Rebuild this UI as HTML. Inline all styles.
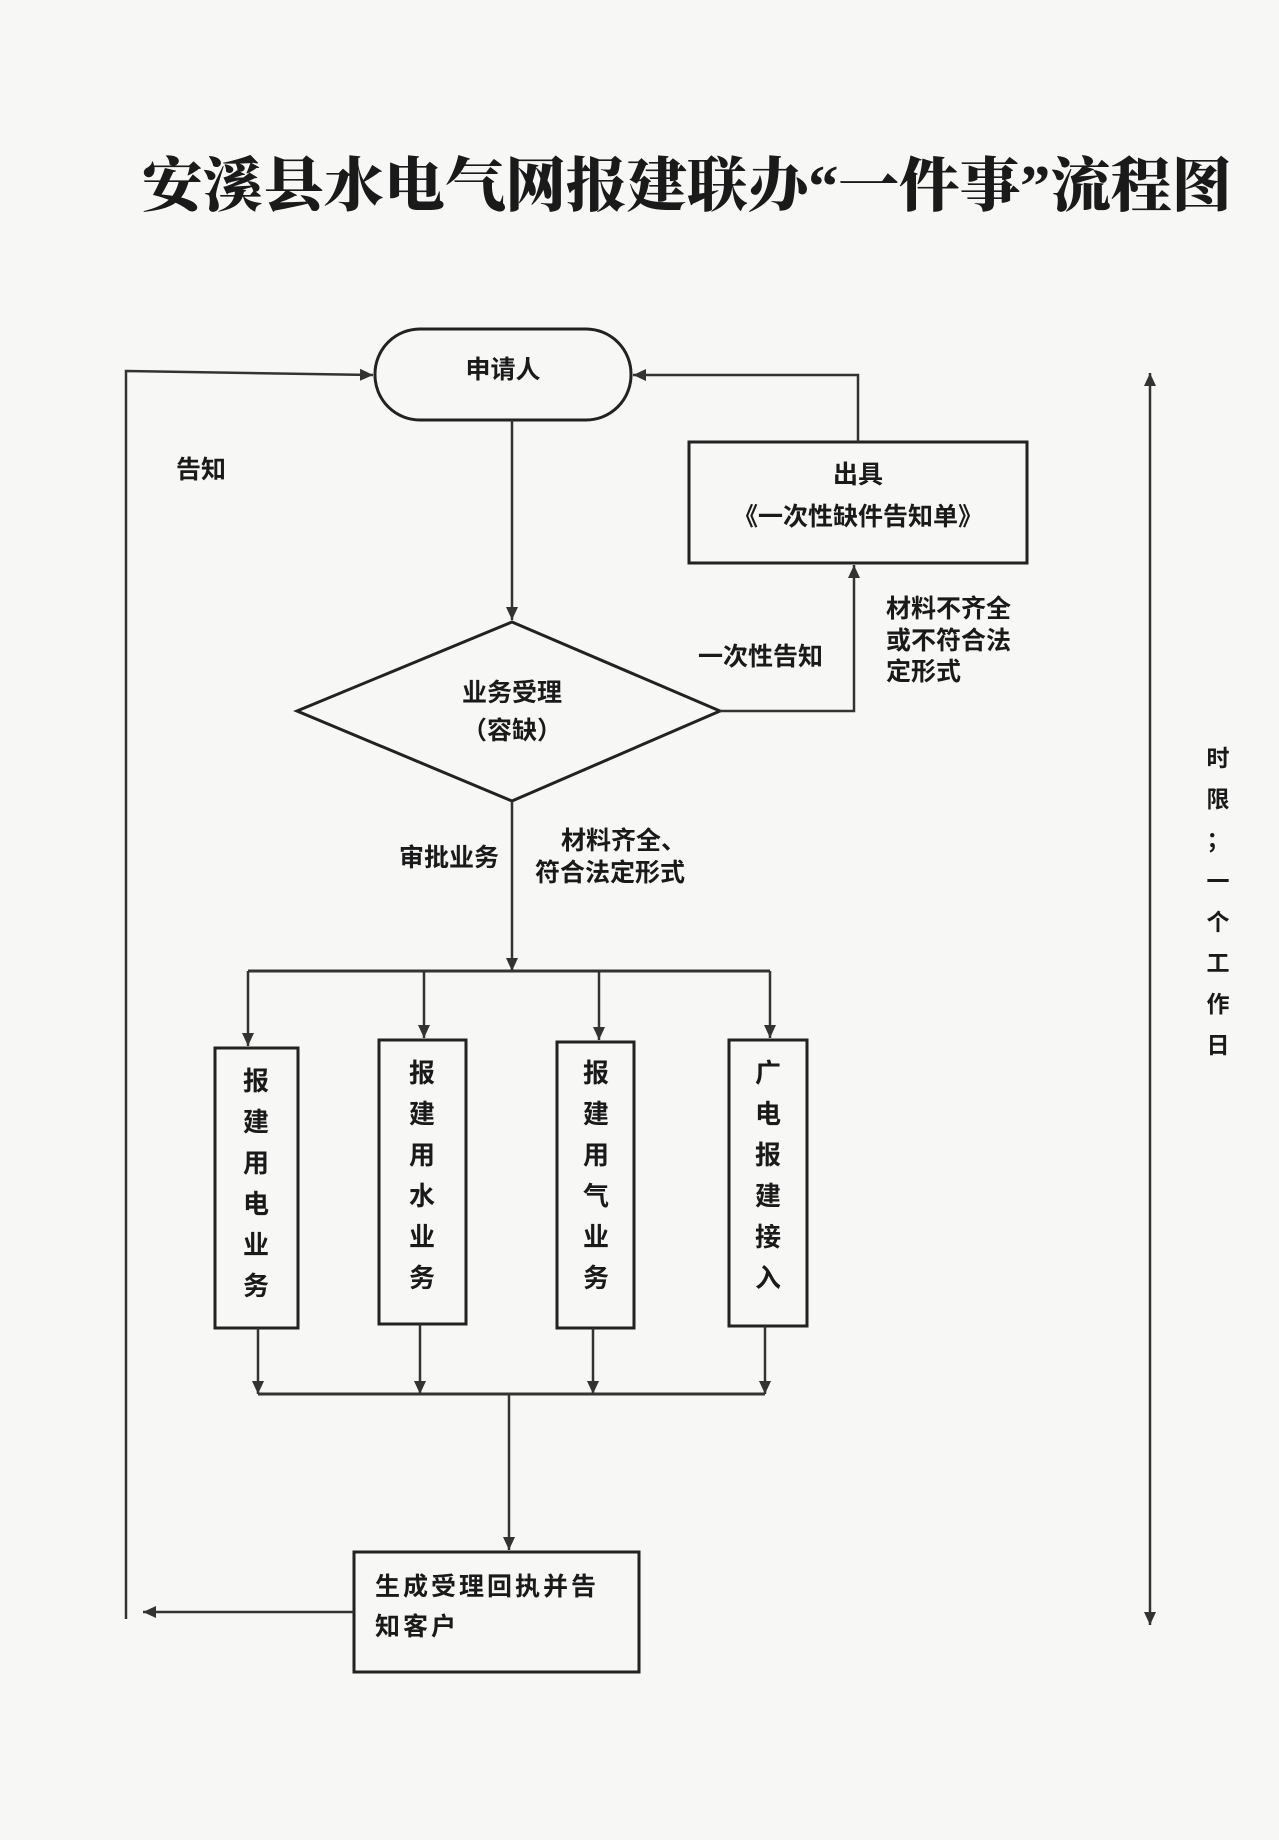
<!DOCTYPE html>
<html><head><meta charset="utf-8"><style>
html,body{margin:0;padding:0;background:#f7f7f5;}
svg{display:block}
text{font-family:"Liberation Sans","Noto Sans CJK SC",sans-serif;font-weight:bold;fill:#1a1a1a}
.t{font-family:"Liberation Serif","Noto Serif CJK SC",serif;font-weight:900}
</style></head><body>
<svg width="1279" height="1840" viewBox="0 0 1279 1840" xmlns="http://www.w3.org/2000/svg">
<defs><marker id="a" markerWidth="10" markerHeight="10" refX="9" refY="5" orient="auto" markerUnits="userSpaceOnUse"><path d="M0,0 L10,5 L0,10 Z" fill="#333"/></marker>
<marker id="b" markerWidth="14" markerHeight="14" refX="13" refY="7" orient="auto" markerUnits="userSpaceOnUse"><path d="M0,1 L13,7 L0,13 Z" fill="#333"/></marker></defs>
<rect width="1279" height="1840" fill="#f7f7f5"/>
<text class="t" x="142" y="206" font-size="59" textLength="1090" lengthAdjust="spacingAndGlyphs">安溪县水电气网报建联办“一件事”流程图</text>
<g stroke="#222" stroke-width="3" fill="none">
<rect x="375" y="329" width="256" height="91" rx="45" ry="45"/>
<rect x="689" y="442" width="338" height="121"/>
<polygon points="297,711 512,622 720,711 512,801"/>
<rect x="215" y="1048" width="83" height="280"/>
<rect x="379" y="1040" width="87" height="284"/>
<rect x="557" y="1042" width="77" height="286"/>
<rect x="729" y="1040" width="78" height="286"/>
<rect x="354" y="1552" width="285" height="120"/>
</g>
<g stroke="#333" stroke-width="2.5" fill="none" marker-end="url(#b)">
<polyline points="126,1619 126,371 373,375"/>
<polyline points="858,442 858,375 633,375"/>
<line x1="512" y1="420" x2="512" y2="620"/>
<polyline points="720,711 854,711 854,565"/>
<line x1="512" y1="801" x2="512" y2="971"/>
<line x1="248" y1="971" x2="248" y2="1046"/>
<line x1="424" y1="971" x2="424" y2="1038"/>
<line x1="599" y1="971" x2="599" y2="1040"/>
<line x1="770" y1="971" x2="770" y2="1038"/>
<line x1="258" y1="1328" x2="258" y2="1394"/>
<line x1="420" y1="1324" x2="420" y2="1394"/>
<line x1="593" y1="1328" x2="593" y2="1394"/>
<line x1="765" y1="1326" x2="765" y2="1394"/>
<line x1="509" y1="1394" x2="509" y2="1550"/>
<line x1="354" y1="1612" x2="143" y2="1612"/>
<line x1="1150" y1="1000" x2="1150" y2="373"/>
<line x1="1150" y1="1000" x2="1150" y2="1625"/>
</g>
<g stroke="#333" stroke-width="3"><line x1="248" y1="971" x2="770" y2="971"/><line x1="258" y1="1394" x2="765" y2="1394"/></g>
<g font-size="25">
<text x="503" y="378" text-anchor="middle">申请人</text>
<text x="176" y="478">告知</text>
<text x="858" y="483" text-anchor="middle">出具</text>
<text x="858" y="525" text-anchor="middle">《一次性缺件告知单》</text>
<text x="698" y="665">一次性告知</text>
<text x="886" y="617">材料不齐全</text>
<text x="886" y="649">或不符合法</text>
<text x="886" y="680">定形式</text>
<text x="512" y="701" text-anchor="middle">业务受理</text>
<text x="512" y="739" text-anchor="middle">（容缺）</text>
<text x="399" y="866">审批业务</text>
<text x="561" y="849">材料齐全、</text>
<text x="535" y="881">符合法定形式</text>
<text x="375" y="1595" letter-spacing="3">生成受理回执并告</text>
<text x="375" y="1635" letter-spacing="3">知客户</text>
</g>
<g font-size="26" text-anchor="middle">
<text x="256" y="1090">报</text><text x="256" y="1131">建</text><text x="256" y="1172">用</text><text x="256" y="1213">电</text><text x="256" y="1254">业</text><text x="256" y="1295">务</text>
<text x="422" y="1082">报</text><text x="422" y="1123">建</text><text x="422" y="1164">用</text><text x="422" y="1205">水</text><text x="422" y="1246">业</text><text x="422" y="1287">务</text>
<text x="596" y="1082">报</text><text x="596" y="1123">建</text><text x="596" y="1164">用</text><text x="596" y="1205">气</text><text x="596" y="1246">业</text><text x="596" y="1287">务</text>
<text x="768" y="1082">广</text><text x="768" y="1123">电</text><text x="768" y="1164">报</text><text x="768" y="1205">建</text><text x="768" y="1246">接</text><text x="768" y="1287">入</text>
</g>
<g font-size="23" text-anchor="middle" font-weight="normal">
<text x="1218" y="766">时</text><text x="1218" y="807">限</text><text x="1218" y="848">；</text><text x="1218" y="889">一</text><text x="1218" y="930">个</text><text x="1218" y="971">工</text><text x="1218" y="1012">作</text><text x="1218" y="1053">日</text>
</g>
</svg>
</body></html>
